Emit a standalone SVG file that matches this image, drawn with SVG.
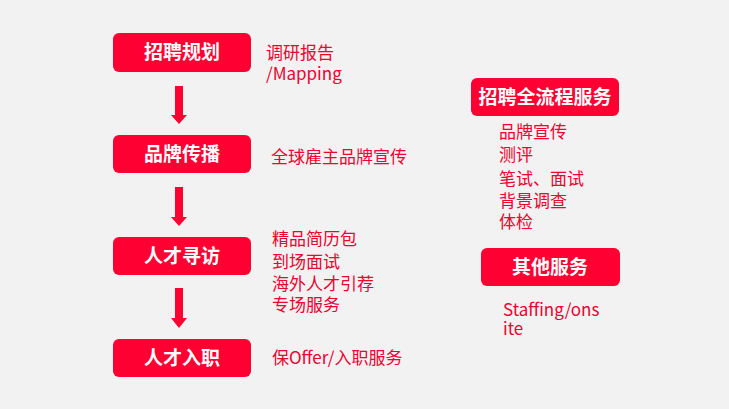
<svg xmlns="http://www.w3.org/2000/svg" width="729" height="409" viewBox="0 0 729 409">
<style>
.bx{fill:#FF0033}
.bt{font-family:"Noto Sans CJK SC","Liberation Sans",sans-serif;font-size:19px;font-weight:bold;fill:#FFFFFF;text-anchor:middle}
.tx{font-family:"Noto Sans CJK SC","Liberation Sans",sans-serif;font-size:17px;fill:#EE0030}
.ar{fill:#FF0033}
</style>
<rect width="729" height="409" fill="#F2F2F2"/>
<g id="node-plan">
<rect class="bx" x="113" y="33" width="138" height="39" rx="6"/>
<text class="bt" x="182" y="59">招聘规划</text>
</g>
<g id="node-brand">
<rect class="bx" x="113" y="135" width="138" height="38" rx="6"/>
<text class="bt" x="182" y="161">品牌传播</text>
</g>
<g id="node-search">
<rect class="bx" x="113" y="237" width="138" height="38" rx="6"/>
<text class="bt" x="182" y="263">人才寻访</text>
</g>
<g id="node-onboard">
<rect class="bx" x="113" y="339" width="138" height="38" rx="6"/>
<text class="bt" x="182" y="365">人才入职</text>
</g>
<g id="node-full">
<rect class="bx" x="471" y="78" width="148" height="38" rx="6"/>
<text class="bt" x="545" y="104">招聘全流程服务</text>
</g>
<g id="node-other">
<rect class="bx" x="481" y="248" width="139" height="38" rx="6"/>
<text class="bt" x="550" y="274">其他服务</text>
</g>
<g id="connectors">
<path class="ar" d="M175,86 H183 V115 H187 L179,124 L171,115 H175 Z"/>
<path class="ar" d="M175,187 H183 V217 H187 L179,226 L171,217 H175 Z"/>
<path class="ar" d="M175,288 H183 V318 H187 L179,328 L171,318 H175 Z"/>
</g>
<g id="labels">
<text class="tx" x="266" y="59">调研报告</text>
<text class="tx" x="266" y="80">/Mapping</text>
<text class="tx" x="271" y="163">全球雇主品牌宣传</text>
<text class="tx" x="272" y="245">精品简历包</text>
<text class="tx" x="272" y="268">到场面试</text>
<text class="tx" x="272" y="290">海外人才引荐</text>
<text class="tx" x="272" y="311">专场服务</text>
<text class="tx" x="272" y="364">保Offer/入职服务</text>
<text class="tx" x="499" y="138">品牌宣传</text>
<text class="tx" x="499" y="161">测评</text>
<text class="tx" x="499" y="185">笔试、面试</text>
<text class="tx" x="499" y="207">背景调查</text>
<text class="tx" x="499" y="228">体检</text>
<text class="tx" x="503" y="316">Staffing/ons</text>
<text class="tx" x="503" y="335">ite</text>
</g>
</svg>
